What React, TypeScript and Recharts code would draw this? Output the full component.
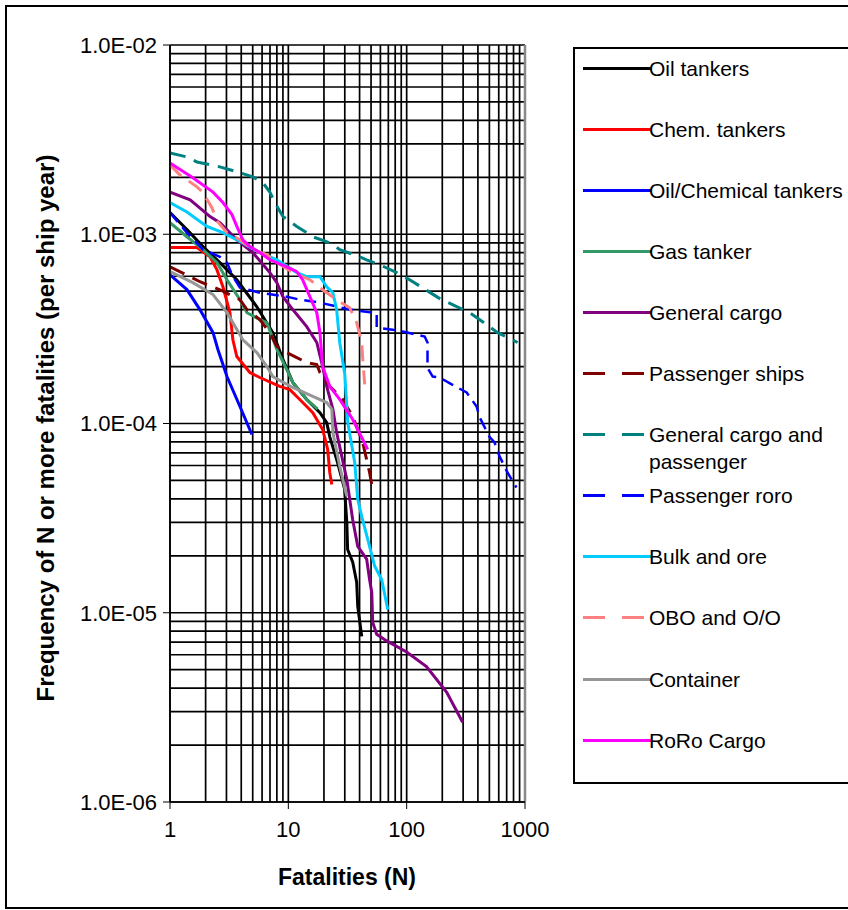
import React from 'react';
import { LineChart, Line, XAxis, YAxis, ReferenceLine } from 'recharts';

// [N, frequency of N or more fatalities]
const oilTankers = [[1, 1.3e-3], [1.39, 1.06e-3], [1.9, 8.6e-4], [2.64, 7.08e-4], [3.67, 5.75e-4], [5.42, 4.14e-4], [7.4, 3.02e-4], [9, 2.18e-4], [10.9, 1.65e-4], [14.3, 1.34e-4], [18.5, 1.14e-4], [21.1, 1.01e-4], [22.4, 8.5e-5], [26.1, 6.2e-5], [29.9, 4.5e-5], [31.2, 3.0e-5], [31.7, 2.16e-5], [35, 1.85e-5], [37.8, 1.45e-5], [38.6, 1.08e-5], [41.7, 7.5e-6]];
const chemTankers = [[1, 8.5e-4], [1.69, 8.5e-4], [2.18, 7.6e-4], [2.49, 6.5e-4], [2.8, 5.28e-4], [3.21, 3.85e-4], [3.4, 2.77e-4], [3.67, 2.26e-4], [4.73, 1.86e-4], [5.74, 1.75e-4], [8.47, 1.57e-4], [10.3, 1.51e-4], [12.5, 1.34e-4], [16.1, 1.14e-4], [19.5, 9.3e-5], [21.5, 7.3e-5], [22.4, 5.5e-5], [23.3, 4.76e-5]];
const oilChemTankers = [[1, 6.1e-4], [1.39, 5.1e-4], [1.79, 4.0e-4], [2.31, 3.02e-4], [2.54, 2.46e-4], [3.03, 1.77e-4], [3.9, 1.23e-4], [4.92, 8.75e-5]];
const gasTanker = [[1, 1.15e-3], [1.39, 9.7e-4], [1.9, 8.3e-4], [2.49, 7.1e-4], [3.03, 5.75e-4], [3.9, 4.51e-4], [4.47, 3.85e-4], [5.74, 3.54e-4], [6.59, 3.41e-4], [8, 2.46e-4], [9.7, 1.93e-4], [10.9, 1.65e-4], [14.3, 1.34e-4], [17.7, 1.19e-4]];
const generalCargo = [[1, 1.67e-3], [1.48, 1.52e-3], [2.18, 1.24e-3], [2.64, 1.15e-3], [3.67, 9.35e-4], [5.01, 8.0e-4], [6.98, 6.27e-4], [8, 5.55e-4], [9, 4.68e-4], [10.9, 4.0e-4], [14.3, 3.25e-4], [17.4, 2.68e-4], [19.5, 2.0e-4], [21.1, 1.57e-4], [23.8, 1.19e-4], [25.6, 8.96e-5], [28.3, 6.7e-5], [31.2, 5.06e-5], [35, 3.1e-5], [38.6, 2.24e-5], [45.9, 1.92e-5], [48.6, 1.5e-5], [50.7, 1.28e-5], [51.6, 8.9e-6], [55.8, 7.7e-6], [67.8, 7.1e-6], [100, 6.2e-6], [147, 5.2e-6], [218, 3.8e-6], [297, 2.64e-6]];
const passengerShips = [[1, 6.73e-4], [1.48, 5.97e-4], [1.79, 5.61e-4], [2.64, 5.09e-4], [3.9, 4.51e-4], [4.47, 4.0e-4], [5.74, 3.54e-4], [6.98, 3.02e-4], [8, 2.55e-4], [9.7, 2.37e-4], [11.8, 2.23e-4], [14.3, 2.1e-4], [17.4, 2.05e-4], [18.5, 1.86e-4], [22.4, 1.57e-4], [28.8, 1.34e-4], [35, 1.09e-4], [42.5, 7.94e-5], [48.6, 5.51e-5], [50.7, 4.76e-5]];
const generalCargoPassenger = [[1, 2.69e-3], [1.39, 2.56e-3], [1.69, 2.41e-3], [2.64, 2.27e-3], [3.67, 2.14e-3], [5.01, 2.01e-3], [6.1, 1.87e-3], [6.98, 1.67e-3], [7.69, 1.47e-3], [9, 1.24e-3], [11.8, 1.1e-3], [16.1, 9.7e-4], [22.4, 9.0e-4], [27.2, 8.3e-4], [40.1, 7.6e-4], [45.9, 7.33e-4], [59.2, 6.9e-4], [82.4, 6.27e-4], [106, 5.75e-4], [197, 4.51e-4], [244, 4.25e-4], [340, 3.85e-4], [438, 3.45e-4], [586, 3.02e-4], [783, 2.77e-4], [865, 2.68e-4]];
const passengerRoro = [[1, 1.3e-3], [1.39, 1.02e-3], [1.9, 8.3e-4], [2.64, 7.6e-4], [3.03, 7.08e-4], [3.4, 5.97e-4], [3.9, 5.22e-4], [5.74, 4.91e-4], [9.7, 4.68e-4], [12.5, 4.51e-4], [18.5, 4.35e-4], [33, 4.0e-4], [51.6, 3.85e-4], [55.8, 3.85e-4], [55.8, 3.21e-4], [76.2, 3.13e-4], [92.5, 3.06e-4], [129, 2.92e-4], [142, 2.88e-4], [150, 2.68e-4], [150, 1.97e-4], [166, 1.77e-4], [190, 1.75e-4], [240, 1.61e-4], [321, 1.46e-4], [390, 1.23e-4], [413, 1.08e-4], [501, 8.5e-5], [553, 7.94e-5], [610, 6.7e-5], [711, 5.51e-5], [847, 4.59e-5]];
const bulkOre = [[1, 1.47e-3], [1.39, 1.31e-3], [2.05, 1.1e-3], [2.8, 1.02e-3], [4.13, 9.0e-4], [5.74, 8.0e-4], [8, 7.33e-4], [11.8, 6.27e-4], [14.3, 5.97e-4], [18.5, 5.97e-4], [21.1, 5.28e-4], [23.8, 4.91e-4], [25.6, 4.0e-4], [27.2, 2.68e-4], [30, 1.82e-4], [31.8, 1.01e-4], [36.4, 6.22e-5], [38.6, 3.97e-5], [41.7, 3.23e-5], [46.9, 2.44e-5], [53.7, 1.76e-5], [61.5, 1.5e-5], [69.2, 1.04e-5]];
const oboOo = [[1, 2.33e-3], [1.21, 2.06e-3], [1.69, 1.78e-3], [1.9, 1.66e-3], [2.26, 1.38e-3], [2.54, 1.16e-3], [3.03, 1.02e-3], [3.9, 9.35e-4], [5.01, 8.3e-4], [6.59, 7.8e-4], [7.4, 7.33e-4], [10.9, 6.27e-4], [15.2, 5.75e-4], [19.5, 5.09e-4], [25.6, 4.51e-4], [33, 4.09e-4], [37.8, 3.41e-4], [41.7, 2.68e-4], [42.4, 2.26e-4], [44.2, 1.61e-4]];
const container = [[1, 6.34e-4], [1.56, 5.55e-4], [2.31, 4.8e-4], [3.03, 3.85e-4], [4.13, 2.77e-4], [5.42, 2.37e-4], [6.59, 2.0e-4], [7.4, 1.77e-4], [10.9, 1.55e-4], [16.1, 1.39e-4], [21.1, 1.29e-4], [23.3, 1.19e-4], [23.8, 8.96e-5], [27.2, 5.93e-5], [31.2, 4.12e-5]];
const roroCargo = [[1, 2.38e-3], [1.56, 1.99e-3], [2.31, 1.67e-3], [2.8, 1.47e-3], [3.34, 1.27e-3], [3.67, 1.1e-3], [4.13, 9.35e-4], [4.73, 8.6e-4], [5.74, 8.0e-4], [6.98, 7.33e-4], [9.7, 6.73e-4], [11.8, 6.34e-4], [13.2, 5.75e-4], [15.2, 4.68e-4], [17.4, 3.85e-4], [18.5, 3.02e-4], [19.5, 2.0e-4], [22.4, 1.57e-4], [27.2, 1.34e-4], [35, 1.05e-4], [46.9, 7.3e-5]];

const xTicks = [1, 10, 100, 1000];
const yTicks = [1e-6, 1e-5, 1e-4, 1e-3, 1e-2];
const steps = [1, 2, 3, 4, 5, 6, 7, 8, 9];

const series = [
  { name: 'Oil tankers', pts: oilTankers, color: '#000000' },
  { name: 'Chem. tankers', pts: chemTankers, color: '#ff0000' },
  { name: 'Oil/Chemical tankers', pts: oilChemTankers, color: '#0000ff' },
  { name: 'Gas tanker', pts: gasTanker, color: '#339966' },
  { name: 'General cargo', pts: generalCargo, color: '#800080' },
  { name: 'Passenger ships', pts: passengerShips, color: '#800000', dash: '16 9' },
  { name: 'General cargo and passenger', pts: generalCargoPassenger, color: '#008080', dash: '16 9' },
  { name: 'Passenger roro', pts: passengerRoro, color: '#0000ff', dash: '12 7', width: 2.5 },
  { name: 'Bulk and ore', pts: bulkOre, color: '#00ccff' },
  { name: 'OBO and O/O', pts: oboOo, color: '#ff8080', dash: '16 9' },
  { name: 'Container', pts: container, color: '#969696' },
  { name: 'RoRo Cargo', pts: roroCargo, color: '#ff00ff' },
];

const font = '"Liberation Sans", Arial, sans-serif';

const gridX = xTicks.slice(0, 3).flatMap((d) => steps.map((s) => d * s)).concat([1000]);
const gridY = yTicks.slice(0, 4).flatMap((d) => steps.map((s) => d * s)).concat([1e-2]);

const fmtY = (v: number) => {
  const e = Math.round(Math.log10(v));
  return '1.0E' + (e < 0 ? '-' : '+') + String(Math.abs(e)).padStart(2, '0');
};

function LegendBox() {
  return (
    <div style={{ position: 'absolute', left: 573, top: 47, width: 300, height: 737, border: '2px solid #000', boxSizing: 'border-box', fontFamily: font, fontSize: 21 }}>
      {series.map((s, i) => {
        const cy = 68 + i * 61.1 - 49;
        return (
          <div key={s.name} style={{ position: 'absolute', left: 0, top: cy - 13.5, height: 27 }}>
            <svg width={72} height={27} style={{ position: 'absolute', left: 6, top: 0 }}>
              <line x1={2} y1={13.5} x2={70} y2={13.5} stroke={s.color} strokeWidth={3} strokeDasharray={s.dash ? '22 17' : undefined} />
            </svg>
            <div style={{ position: 'absolute', left: 74, top: 0, width: 205, lineHeight: '27px', color: '#000' }}>{s.name}</div>
          </div>
        );
      })}
    </div>
  );
}

export default function App() {
  return (
    <div style={{ position: 'absolute', left: 0, top: 0, width: 848, height: 910, background: '#fff', overflow: 'hidden' }}>
      <div style={{ position: 'absolute', left: 5, top: 5, width: 900, height: 900, border: '2px solid #000' }} />
      <div style={{ position: 'absolute', left: 0, top: 0 }}>
        <LineChart width={848} height={910} margin={{ top: 45, right: 323, bottom: 48, left: 70 }}>
          <XAxis dataKey="n" type="number" scale="log" domain={[1, 1000]} ticks={xTicks} allowDataOverflow height={60}
            tick={{ fontSize: 22, fill: '#000', fontFamily: font }} tickSize={7} tickMargin={12} axisLine={{ stroke: '#000', strokeWidth: 1.5 }} tickLine={{ stroke: '#000' }} />
          <YAxis dataKey="f" type="number" scale="log" domain={[1e-6, 1e-2]} ticks={yTicks} allowDataOverflow width={100}
            tickFormatter={fmtY} tick={{ fontSize: 22, fill: '#000', fontFamily: font }} tickSize={7} tickMargin={6} axisLine={{ stroke: '#000', strokeWidth: 1.5 }} tickLine={{ stroke: '#000' }} />
          {gridX.map((v) => (
            <ReferenceLine key={'gx' + v} x={v} stroke="#000" strokeWidth={1.7} />
          ))}
          {gridY.map((v) => (
            <ReferenceLine key={'gy' + v} y={v} stroke="#000" strokeWidth={1.7} />
          ))}
          <ReferenceLine x={1000} stroke="#888" strokeWidth={2.5} />
          {series.map((s) => (
            <Line key={s.name} name={s.name} data={s.pts.map(([n, f]) => ({ n, f }))} dataKey="f" type="linear"
              stroke={s.color} strokeWidth={s.width ?? 3} strokeDasharray={s.dash} dot={false} isAnimationActive={false} />
          ))}
        </LineChart>
      </div>
      <svg width={848} height={910} style={{ position: 'absolute', left: 0, top: 0, pointerEvents: 'none' }}>
        <text x={347} y={877} textAnchor="middle" dominantBaseline="central" fontFamily={font} fontSize={23} fontWeight="bold">Fatalities (N)</text>
        <text transform="translate(45,428) rotate(-90)" textAnchor="middle" dominantBaseline="central" fontFamily={font} fontSize={24} fontWeight="bold">Frequency of N or more fatalities (per ship year)</text>
      </svg>
      <LegendBox />
    </div>
  );
}
